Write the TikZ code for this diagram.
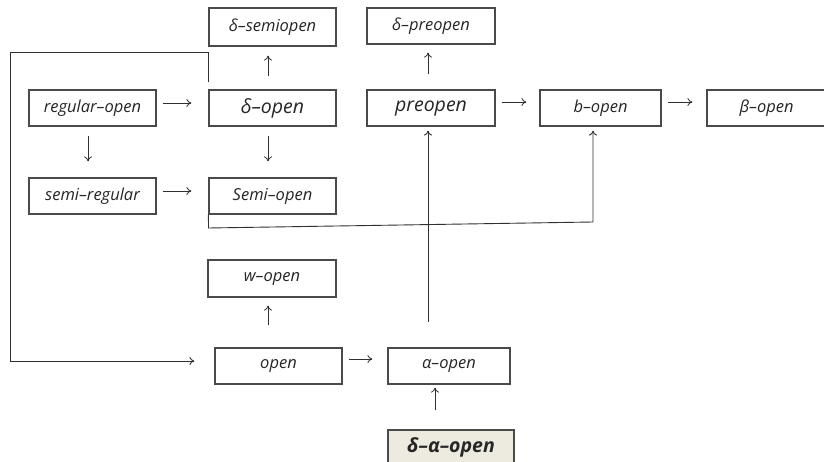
\documentclass[tikz,border=0pt]{standalone}
\usepackage{fontspec}
\setmainfont{Open Sans}
\usetikzlibrary{arrows.meta}
\definecolor{boxline}{HTML}{4A4A4A}
\definecolor{arrline}{HTML}{303030}
\definecolor{txt}{HTML}{262626}
\definecolor{beige}{HTML}{EDEADF}
\begin{document}
\begin{tikzpicture}[x=1pt,y=-1pt,
  box/.style={draw=boxline,line width=1.2pt,rectangle,inner sep=0pt,text=txt,font=\fontsize{16.5}{19}\selectfont\itshape},
  bigbox/.style={box,font=\fontsize{19.5}{22}\selectfont\itshape},
  arr/.style={draw=arrline,line width=0.8pt,-{To[length=5pt,width=8pt]}},
  conn/.style={draw=arrline,line width=0.9pt}]
\clip (0,0) rectangle (824,462);
\fill[white] (0,0) rectangle (824,462);
% nodes
\node[box,minimum width=127pt,minimum height=38pt] (dsemi) at (272.5,27) {\raisebox{1pt}{δ–semiopen}};
\node[box,minimum width=128pt,minimum height=36pt] (dpre) at (431,26) {\raisebox{1pt}{δ–preopen}};
\node[box,minimum width=127pt,minimum height=36pt] (regopen) at (92.5,108) {\raisebox{2pt}{regular–open}};
\node[bigbox,minimum width=127pt,minimum height=36pt] (dopen) at (272.5,108) {\raisebox{1pt}{δ–open}};
\node[bigbox,minimum width=128pt,minimum height=36pt] (preopen) at (431,108) {\raisebox{1pt}{preopen}};
\node[box,minimum width=121pt,minimum height=36pt] (bopen) at (600.5,108) {\raisebox{2pt}{b–open}};
\node[box,minimum width=130pt,minimum height=36pt,text width=117pt,align=left] (beta) at (772,108) {\hspace*{26pt}\raisebox{2pt}{β–open}};
\node[box,minimum width=127pt,minimum height=36pt] (semireg) at (92.5,196) {\raisebox{2pt}{semi–regular}};
\node[box,minimum width=127pt,minimum height=36pt] (semiopen) at (272.5,196) {\raisebox{2pt}{Semi–open}};
\node[box,minimum width=128pt,minimum height=37pt] (wopen) at (272,278.5) {\raisebox{2pt}{w–open}};
\node[box,minimum width=127pt,minimum height=36pt] (open) at (278.5,366) {\raisebox{2pt}{open}};
\node[box,minimum width=122pt,minimum height=36pt] (alpha) at (449,366) {\raisebox{2pt}{α–open}};
\node[box,fill=beige,minimum width=126pt,minimum height=40pt,font=\fontsize{19.5}{22}\selectfont\bfseries\itshape] (dalpha) at (451,450) {\raisebox{10pt}{δ–α–open}};
% straight arrows
\draw[arr,shorten <=6pt,shorten >=17pt] ([yshift=5pt]regopen.east) -- ([yshift=5pt]dopen.west);
\draw[arr,shorten <=6pt,shorten >=17pt] ([yshift=5pt]semireg.east) -- ([yshift=5pt]semiopen.west);
\draw[arr,shorten <=9pt,shorten >=16pt] ([xshift=-4.5pt]regopen.south) -- ([xshift=-4.5pt]semireg.north);
\draw[arr,shorten <=9pt,shorten >=16pt] ([xshift=-4.5pt]dopen.south) -- ([xshift=-4.5pt]semiopen.north);
\draw[arr,shorten <=13pt,shorten >=9pt] ([xshift=-4.5pt]dopen.north) -- ([xshift=-4.5pt]dsemi.south);
\draw[arr,shorten <=15pt,shorten >=8pt] ([xshift=-3pt]preopen.north) -- ([xshift=-3pt]dpre.south);
\draw[arr,shorten <=6pt,shorten >=13pt] ([yshift=6pt]preopen.east) -- ([yshift=6pt]bopen.west);
\draw[arr,shorten <=6pt,shorten >=14pt] ([yshift=6pt]bopen.east) -- ([yshift=6pt]beta.west);
\draw[arr,shorten <=22pt,shorten >=8pt] ([xshift=-10.5pt]open.north) -- ([xshift=-4pt]wopen.south);
\draw[arr,shorten <=6pt,shorten >=15pt] ([yshift=7pt]open.east) -- ([yshift=7pt]alpha.west);
\draw[arr,shorten <=19pt,shorten >=3pt] ([xshift=-16pt]dalpha.north) -- ([xshift=-14pt]alpha.south);
% routed connectors
\coordinate (loopA) at (10,52);
\draw[conn,-{To[length=5pt,width=8pt]},shorten >=20pt] ([yshift=7pt]dopen.north west) |- (loopA) |- ([yshift=5pt]open.west);
\coordinate (semiB) at (208.5,228);
\coordinate (semiC) at (593,222);
\draw[conn,-{To[length=5pt,width=8pt]},shorten >=4pt] (semiopen.south west) -- (semiB) -- (semiC) -- (semiC |- bopen.south);
\coordinate (alphaTop) at (428,322);
\draw[conn,-{To[length=5pt,width=8pt]},shorten >=4pt] (alphaTop) -- ([xshift=-3pt]preopen.south);
\end{tikzpicture}
\end{document}
